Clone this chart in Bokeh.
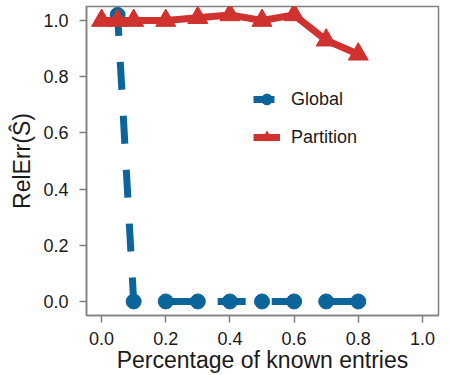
from bokeh.plotting import figure
from bokeh.models import FixedTicker, Legend, LegendItem, Range1d, PrintfTickFormatter
from bokeh.embed import file_html
from bokeh.resources import INLINE

# Relative error of the estimated S versus the share of known entries
global_x = [0.05, 0.1, 0.2, 0.3, 0.4, 0.5, 0.6, 0.7, 0.8]
global_y = [1.02, 0.0, 0.0, 0.0, 0.0, 0.0, 0.0, 0.0, 0.0]
partition_x = [0.0, 0.05, 0.1, 0.2, 0.3, 0.4, 0.5, 0.6, 0.7, 0.8]
partition_y = [1.0, 1.0, 1.0, 1.0, 1.01, 1.02, 1.0, 1.02, 0.93, 0.88]
tick_values = [0.0, 0.2, 0.4, 0.6, 0.8, 1.0]

BLUE = "#0b659b"
RED = "#d0322f"
GREY = "#7f7f7f"
FONT = "Liberation Sans"

p = figure(width=450, height=375, output_backend="svg", toolbar_location=None,
           x_range=Range1d(-0.047, 1.05), y_range=Range1d(-0.05, 1.05),
           min_border_left=86, min_border_right=12, min_border_top=6,
           min_border_bottom=57)

p.xgrid.visible = False
p.ygrid.visible = False
p.outline_line_color = GREY
p.outline_line_width = 1.5
p.background_fill_color = "white"
p.border_fill_color = "white"

g_line = p.line(global_x, global_y, color=BLUE, line_width=7,
                line_dash="28 26", line_dash_offset=7)
g_pts = p.scatter(global_x, global_y, marker="circle", size=15, color=BLUE)
r_line = p.line(partition_x, partition_y, color=RED, line_width=7)
r_pts = p.scatter(partition_x, partition_y, marker="triangle", size=20, color=RED)

for ax in (p.xaxis[0], p.yaxis[0]):
    ax.ticker = FixedTicker(ticks=tick_values)
    ax.formatter = PrintfTickFormatter(format="%.1f")
    ax.minor_tick_line_color = None
    ax.axis_line_color = GREY
    ax.axis_line_width = 1.5
    ax.major_tick_line_color = GREY
    ax.major_tick_line_width = 1.5
    ax.major_tick_in = 0
    ax.major_tick_out = 7
    ax.major_label_text_font = FONT
    ax.major_label_text_font_size = "18px"
    ax.major_label_text_color = "#1a1a1a"
    ax.axis_label_text_font = FONT
    ax.axis_label_text_font_size = "23px"
    ax.axis_label_text_font_style = "normal"
    ax.axis_label_text_color = "#1a1a1a"

p.yaxis.major_label_standoff = 11
p.yaxis.axis_label_standoff = 5
p.xaxis.major_label_standoff = 9
p.xaxis.axis_label_standoff = -1
p.xaxis.axis_label = "Percentage of known entries"
p.yaxis.axis_label = "RelErr(Ŝ)"

legend = Legend(items=[
    LegendItem(label="Global", renderers=[g_line, g_pts]),
    LegendItem(label="Partition", renderers=[r_line, r_pts]),
], location=(167, 163))
legend.background_fill_alpha = 0
legend.border_line_color = None
legend.padding = 0
legend.margin = 0
legend.spacing = 8
legend.glyph_width = 27
legend.glyph_height = 30
legend.label_height = 30
legend.label_standoff = 11
legend.label_text_font = FONT
legend.label_text_font_size = "18px"
legend.label_text_color = "#1a1a1a"
p.add_layout(legend)

open("out.html", "w").write(file_html(p, INLINE))
